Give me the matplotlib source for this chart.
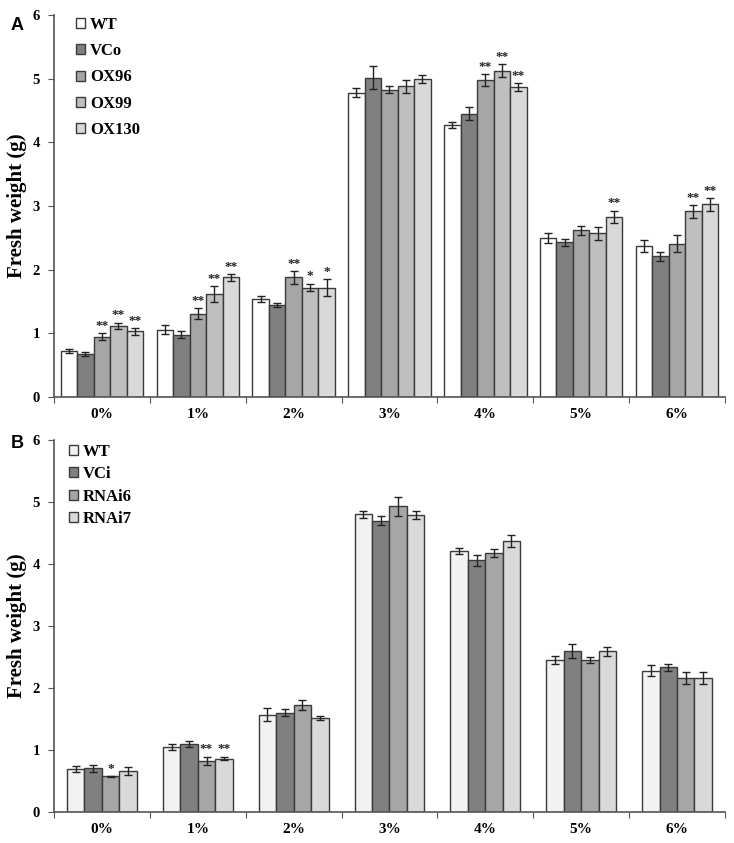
import numpy as np
import matplotlib

matplotlib.use("Agg")
import matplotlib.pyplot as plt
from matplotlib.patches import Patch

# ---------------------------------------------------------------------------
# Data
# ---------------------------------------------------------------------------
categories = ["0%", "1%", "2%", "3%", "4%", "5%", "6%"]

# Panel A: overexpression lines
lines_a = ["WT", "VCo", "OX96", "OX99", "OX130"]
colors_a = ["#ffffff", "#808080", "#a6a6a6", "#bfbfbf", "#d9d9d9"]
means_a = [
    [0.72, 1.06, 1.54, 4.78, 4.27, 2.50, 2.37],   # WT
    [0.68, 0.98, 1.45, 5.02, 4.45, 2.43, 2.21],   # VCo
    [0.95, 1.31, 1.88, 4.83, 4.98, 2.62, 2.41],   # OX96
    [1.12, 1.62, 1.72, 4.88, 5.13, 2.57, 2.92],   # OX99
    [1.03, 1.88, 1.72, 5.00, 4.87, 2.83, 3.03],   # OX130
]
errs_a = [
    [0.03, 0.07, 0.05, 0.07, 0.05, 0.08, 0.09],
    [0.03, 0.05, 0.03, 0.18, 0.10, 0.06, 0.07],
    [0.05, 0.09, 0.10, 0.05, 0.09, 0.07, 0.13],
    [0.05, 0.12, 0.06, 0.10, 0.10, 0.10, 0.10],
    [0.05, 0.05, 0.13, 0.06, 0.06, 0.10, 0.10],
]
stars_a = [
    ["", "", "", "", "", "", ""],
    ["", "", "", "", "", "", ""],
    ["**", "**", "**", "", "**", "", ""],
    ["**", "**", "*", "", "**", "", "**"],
    ["**", "**", "*", "", "**", "**", "**"],
]

# Panel B: RNAi lines
lines_b = ["WT", "VCi", "RNAi6", "RNAi7"]
colors_b = ["#f2f2f2", "#808080", "#a6a6a6", "#d9d9d9"]
means_b = [
    [0.69, 1.04, 1.57, 4.80, 4.21, 2.45, 2.28],   # WT
    [0.70, 1.09, 1.60, 4.70, 4.06, 2.60, 2.33],   # VCi
    [0.57, 0.82, 1.73, 4.93, 4.18, 2.45, 2.16],   # RNAi6
    [0.66, 0.86, 1.51, 4.79, 4.37, 2.59, 2.16],   # RNAi7
]
errs_b = [
    [0.05, 0.05, 0.10, 0.06, 0.05, 0.07, 0.09],
    [0.05, 0.05, 0.06, 0.07, 0.09, 0.11, 0.06],
    [0.01, 0.07, 0.08, 0.15, 0.06, 0.05, 0.09],
    [0.07, 0.03, 0.03, 0.07, 0.09, 0.07, 0.10],
]
stars_b = [
    ["", "", "", "", "", "", ""],
    ["", "", "", "", "", "", ""],
    ["*", "**", "", "", "", "", ""],
    ["", "**", "", "", "", "", ""],
]

SERIF = ["Liberation Serif", "DejaVu Serif"]
SANS = ["Liberation Sans", "DejaVu Sans"]
SPINE = "#555555"


def draw_panel(ax, names, colors, means, errs, stars, width, leg_spacing,
               leg_anchor):
    n = len(names)
    x = np.arange(len(categories))
    offsets = (np.arange(n) - (n - 1) / 2) * width
    for i in range(n):
        xs = x + offsets[i]
        ax.bar(xs, means[i], width, color=colors[i], edgecolor="#3a3a3a",
               linewidth=1.0, label=names[i], zorder=2)
        ax.errorbar(xs, means[i], yerr=errs[i], fmt="none", ecolor="#222222",
                    elinewidth=1.0, capsize=3, capthick=1.0, zorder=3)
        for j, s in enumerate(stars[i]):
            if s:
                ax.text(xs[j], means[i][j] + errs[i][j] + 0.02, s,
                        ha="center", va="bottom", fontsize=9.5,
                        fontweight="bold", family=SERIF, color="#222222")

    ax.set_xlim(-0.5, len(categories) - 0.5)
    ax.set_ylim(0, 6)
    ax.set_yticks(range(7))
    ax.set_yticklabels([str(v) for v in range(7)], family=SERIF,
                       fontweight="bold", fontsize=10.5)
    ax.set_xticks(np.arange(len(categories) + 1) - 0.5)
    ax.set_xticklabels([])
    ax.set_xticks(x, minor=True)
    ax.set_xticklabels(categories, minor=True, family=SERIF,
                       fontweight="bold", fontsize=11)
    ax.tick_params(axis="x", which="minor", length=0, pad=8)
    ax.tick_params(axis="x", which="major", length=4, color=SPINE)
    ax.tick_params(axis="y", length=4, color=SPINE, pad=6)
    for side in ["top", "right"]:
        ax.spines[side].set_visible(False)
    for side in ["left", "bottom"]:
        ax.spines[side].set_color(SPINE)
        ax.spines[side].set_linewidth(1.2)
    ax.set_ylabel("Fresh weight (g)", family=SERIF, fontweight="bold",
                  fontsize=15, labelpad=4)

    handles = [Patch(facecolor=c, edgecolor="#3a3a3a", linewidth=1.0)
               for c in colors]
    leg = ax.legend(handles, names, loc="upper left",
                    bbox_to_anchor=leg_anchor, frameon=False,
                    handlelength=0.55, handleheight=0.55, handletextpad=0.3,
                    labelspacing=leg_spacing,
                    prop={"family": SERIF, "weight": "bold", "size": 12})
    return leg


fig = plt.figure(figsize=(7.34, 8.43), dpi=100)
ax_a = fig.add_axes([0.0736, 0.529, 0.914, 0.453])
ax_b = fig.add_axes([0.0736, 0.037, 0.914, 0.441])

draw_panel(ax_a, lines_a, colors_a, means_a, errs_a, stars_a, 0.172, 0.62,
           (0.01, 1.035))
draw_panel(ax_b, lines_b, colors_b, means_b, errs_b, stars_b, 0.182, 0.38,
           (0.0, 1.03))

fig.text(0.015, 0.965, "A", family=SANS, fontweight="bold", fontsize=13)
fig.text(0.015, 0.468, "B", family=SANS, fontweight="bold", fontsize=13)

fig.savefig("out.png", dpi=100)
